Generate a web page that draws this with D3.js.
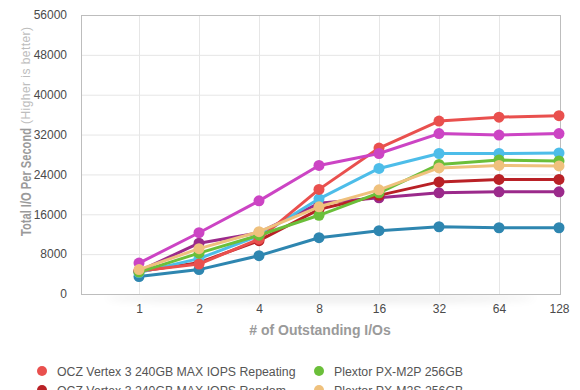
<!DOCTYPE html>
<html>
<head>
<meta charset="utf-8">
<script src="https://cdn.jsdelivr.net/npm/d3@7"></script>
<style>
  html, body { margin: 0; padding: 0; background: #fff; }
  svg { display: block; font-family: "Liberation Sans", Arial, Helvetica, sans-serif; }
</style>
</head>
<body>
<svg id="chart" width="580" height="390"></svg>
<script>
const xLabels = ["1", "2", "4", "8", "16", "32", "64", "128"];
const yTicks = [0, 8000, 16000, 24000, 32000, 40000, 48000, 56000];

const seriesNames = [
  "OCZ Vertex 3 240GB MAX IOPS Repeating",
  "Plextor PX-M2P 256GB",
  "OCZ Vertex 3 240GB MAX IOPS Random",
  "Plextor PX-M2S 256GB",
  "Samsung SSD 830 256GB",
  "Crucial m4 256GB",
  "Intel SSD 520 240GB",
  "Intel SSD 320 300GB"
];
const seriesColors = ["#e9504e", "#6bbf3a", "#b92126", "#efc17d", "#cc44c4", "#4dbde9", "#9b2a8b", "#2e86b0"];

const ocz_repeating = [4600, 6000, 11000, 21000, 29300, 34700, 35500, 35800];
const plextor_m2p   = [4400, 8200, 11800, 15800, 20300, 26000, 26900, 26700];
const ocz_random    = [4500, 6300, 10700, 17000, 19800, 22500, 23000, 23000];
const plextor_m2s   = [4900, 9100, 12500, 17500, 20900, 25300, 25800, 25700];
const samsung_830   = [6200, 12300, 18700, 25800, 28200, 32200, 31900, 32200];
const crucial_m4    = [4300, 7100, 11700, 19100, 25200, 28200, 28200, 28300];
const intel_520     = [4600, 10200, 12300, 18200, 19300, 20300, 20500, 20500];
const intel_320     = [3500, 4900, 7700, 11300, 12700, 13500, 13300, 13300];

const seriesValues = [ocz_repeating, plextor_m2p, ocz_random, plextor_m2s, samsung_830, crucial_m4, intel_520, intel_320];
const drawOrder = [7, 6, 2, 5, 0, 4, 1, 3];

const svg = d3.select("#chart");
const pLeft = 81, pRight = 560, pTop = 15, pBottom = 294;

const x = d3.scaleLinear().domain([0, 7]).range([139, 559]);
const y = d3.scaleLinear().domain([0, 56000]).range([pBottom, pTop]);

// shadow under plot
const defs = svg.append("defs");
const filt = defs.append("filter").attr("id", "blur").attr("x", "-20%").attr("y", "-200%").attr("width", "140%").attr("height", "500%");
filt.append("feGaussianBlur").attr("stdDeviation", 4);
svg.append("ellipse").attr("cx", (pLeft + pRight) / 2).attr("cy", pBottom + 4)
  .attr("rx", 215).attr("ry", 5).attr("fill", "#000").attr("opacity", 0.07)
  .attr("filter", "url(#blur)");

svg.append("rect").attr("x", pLeft).attr("y", pTop).attr("width", pRight - pLeft).attr("height", pBottom - pTop)
  .attr("fill", "#fff");

// horizontal grid
svg.append("g").selectAll("line").data(yTicks.filter(d => d > 0 && d < 56000)).join("line")
  .attr("x1", pLeft).attr("x2", pRight).attr("y1", d => y(d) + 0.5).attr("y2", d => y(d) + 0.5)
  .attr("stroke", "#e6e6e6").attr("stroke-width", 1);
// vertical grid
svg.append("g").selectAll("line").data(xLabels.slice(0, 7)).join("line")
  .attr("x1", (d, i) => x(i) + 0.5).attr("x2", (d, i) => x(i) + 0.5).attr("y1", pTop).attr("y2", pBottom)
  .attr("stroke", "#e6e6e6").attr("stroke-width", 1);

// frame
svg.append("rect").attr("x", pLeft + 0.5).attr("y", pTop + 0.5).attr("width", pRight - pLeft).attr("height", pBottom - pTop)
  .attr("fill", "none").attr("stroke", "#bdbdbd").attr("stroke-width", 1);

// y axis labels
const yAxis = d3.axisLeft(y).tickValues(yTicks).tickSize(0).tickPadding(0).tickFormat(d3.format("d"));
const yg = svg.append("g").attr("transform", `translate(67,0)`).call(yAxis);
yg.select(".domain").remove();
yg.selectAll("text").attr("font-size", 12).attr("fill", "#4a4a4a").attr("font-family", null);

// x axis labels
const xAxis = d3.axisBottom(x).tickValues(d3.range(8)).tickSize(0).tickPadding(0).tickFormat(i => xLabels[i]);
const xg = svg.append("g").attr("transform", `translate(0,304)`).call(xAxis);
xg.select(".domain").remove();
xg.selectAll("text").attr("font-size", 12).attr("fill", "#4a4a4a").attr("font-family", null);

// axis titles
svg.append("text").attr("x", 320).attr("y", 335).attr("text-anchor", "middle")
  .attr("font-size", 14).attr("font-weight", "bold").attr("fill", "#9a9a9a")
  .text("# of Outstanding I/Os");

svg.append("text").attr("transform", "translate(31,236) rotate(-90)").attr("text-anchor", "start")
  .attr("font-size", 14).attr("font-weight", "bold").attr("fill", "#9a9a9a")
  .style("font-family", "'Liberation Sans Narrow', 'Liberation Sans', Arial, sans-serif")
  .attr("textLength", 108).attr("lengthAdjust", "spacingAndGlyphs")
  .text("Total I/O Per Second");
svg.append("text").attr("transform", "translate(30,124) rotate(-90)").attr("text-anchor", "start")
  .attr("font-size", 12).attr("fill", "#bdbdbd").attr("letter-spacing", 0.45)
  .text("(Higher is better)");

// lines & points
const line = d3.line().x((d, i) => x(i)).y(d => y(d));
const sg = svg.append("g");
drawOrder.forEach(k => {
  const g = sg.append("g");
  g.append("path").datum(seriesValues[k]).attr("d", line)
    .attr("fill", "none").attr("stroke", seriesColors[k]).attr("stroke-width", 3)
    .attr("stroke-linejoin", "round");
  g.selectAll("circle").data(seriesValues[k]).join("circle")
    .attr("cx", (d, i) => x(i)).attr("cy", d => y(d)).attr("r", 5.5)
    .attr("fill", seriesColors[k]);
});

// legend (only the first two rows fall inside the picture)
const lg = svg.append("g");
seriesNames.forEach((name, i) => {
  const col = i % 2, row = Math.floor(i / 2);
  if (row > 1) return;
  const gx = col === 0 ? 42 : 319;
  const gy = 371 + row * 19;
  lg.append("circle").attr("cx", gx).attr("cy", gy).attr("r", 5).attr("fill", seriesColors[i]);
  lg.append("text").attr("x", gx + 15).attr("y", gy + 4.5)
    .attr("font-size", 12.3).attr("fill", "#555").attr("font-weight", "normal")
    .style("font-family", "'Liberation Sans', Arial, sans-serif")
    .text(name);
});
</script>
</body>
</html>
